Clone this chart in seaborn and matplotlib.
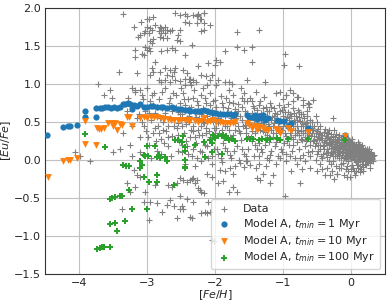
import numpy as np
import pandas as pd
import matplotlib
matplotlib.use("Agg")
import matplotlib.pyplot as plt
import seaborn as sns

# ---------------- observational data ([Fe/H], [Eu/Fe]) ----------------
data_plume = [
    (-3.36,1.92),(-3.19,1.75),(-3.09,1.82),(-3.00,1.86),(-2.98,1.85),(-2.91,1.88),(-2.89,1.78),
    (-3.00,1.75),(-2.96,1.73),(-2.93,1.71),(-3.03,1.69),(-2.98,1.67),(-3.05,1.67),(-3.10,1.64),
    (-3.13,1.62),(-2.81,1.75),(-2.79,1.73),(-2.76,1.71),(-2.74,1.75),(-2.71,1.71),(-2.83,1.69),
    (-2.79,1.67),(-2.74,1.67),(-2.66,1.69),(-2.64,1.71),(-2.81,1.62),(-2.76,1.60),(-2.71,1.61),
    (-2.91,1.59),(-2.96,1.56),(-2.93,1.54),(-2.51,1.71),(-2.54,1.64),(-2.59,1.93),(-2.51,1.91),
    (-2.44,1.92),(-2.42,1.89),(-2.44,1.82),(-2.39,1.80),(-2.32,1.91),(-2.27,1.89),(-2.25,1.92),
    (-2.22,1.86),(-2.17,1.93),(-2.20,1.69),(-2.17,1.71),(-2.07,1.78),(-2.34,1.51),(-2.51,1.56),
    (-2.56,1.58),(-3.18,1.45),(-3.03,1.49),(-3.00,1.45),(-2.98,1.47),(-2.96,1.43),(-3.08,1.40),
    (-3.05,1.38),(-3.18,1.36),(-2.79,1.43),(-2.71,1.45),(-2.64,1.47),(-2.59,1.45),(-2.44,1.38),
    (-2.88,1.29),(-2.25,1.23),(-2.10,1.27),(-1.98,1.32),(-1.93,1.29),(-1.85,1.43),(-3.15,1.14),
    (-2.93,1.21),(-2.91,1.16),(-2.96,1.12),(-2.81,1.16),(-2.74,1.21),(-2.66,1.18),(-2.61,1.16),
    (-2.59,1.21),(-2.71,1.12),(-2.64,1.10),(-2.47,1.18),(-2.42,1.14),(-2.37,1.07),(-2.20,1.12),
    (-2.13,1.10),(-2.07,1.05),(-1.80,1.03),(-2.83,1.05),(-2.79,1.03),(-2.74,1.05),(-2.66,1.03),
    (-2.59,1.05),(-2.51,1.04),(-2.44,1.06),(-2.39,1.07),(-2.37,1.03),(-2.32,1.05),(-3.22,0.94),
    (-3.18,0.92),(-3.10,0.92),(-2.25,1.91),(-2.17,1.93),(-2.20,1.86),(-2.27,1.80),(-2.17,1.80),
    (-1.68,1.68),(-1.36,1.71),(-1.68,1.49),(-1.58,1.45),(-1.46,1.49),(-0.97,1.40),(-1.46,1.29),
    (-0.99,1.25),(-0.77,1.23),(-1.26,1.03),(-1.53,1.05),(-2.00,1.25),(-2.05,1.12),(-1.85,1.03),
    (-0.90,0.92),(-0.85,0.88),(-0.80,0.83),(-0.95,0.86),(-0.70,0.79),(-0.63,0.75),(-0.56,0.79),
    (-1.73,0.75),(-0.26,0.55),(0.13,0.18),(0.16,0.15),(-3.72,1.00),(-3.54,0.92),(-3.64,0.86),
    (-3.42,1.16),(-3.52,0.82),(-0.78,0.83),(-0.62,0.73),
]
data_leftmid = [
    (-3.18,0.90),(-3.15,0.55),(-3.12,0.72),(-3.10,0.30),(-3.08,0.85),(-3.05,0.45),(-3.03,0.65),
    (-3.00,0.95),(-2.98,0.20),(-2.96,0.78),(-2.94,0.52),(-2.92,0.35),(-2.90,0.88),(-2.88,0.62),
    (-2.86,0.12),(-2.84,0.45),(-2.82,0.80),(-2.80,0.28),(-2.78,0.68),(-2.76,0.50),(-2.74,0.95),
    (-2.72,0.38),(-2.70,0.18),(-2.68,0.75),(-2.66,0.55),(-2.64,0.32),(-2.62,0.88),(-2.61,0.45),
    (-3.25,0.20),(-3.30,0.65),(-3.35,0.35),(-3.40,0.15),(-3.28,0.82),(-3.22,0.45),(-2.95,0.02),
    (-2.80,0.08),(-2.65,0.05),(-3.10,0.10),(-2.87,0.25),(-2.75,0.22),(-4.06,0.11),(-3.99,0.05),
    (-3.84,-0.02),(-3.50,0.11),(-3.22,0.05),
    (-3.12,0.60),(-3.06,0.80),(-3.02,0.38),(-2.97,0.62),(-2.93,0.85),(-2.89,0.42),(-2.85,0.70),
    (-2.81,0.55),(-2.78,0.90),(-2.73,0.62),(-2.69,0.45),(-2.66,0.82),(-2.63,0.65),(-2.99,0.30),
    (-2.83,0.35),(-2.70,0.30),(-3.08,0.50),(-2.91,0.72),(-2.77,0.40),
]
data_mid = [
    (-2.58,0.85),(-2.56,0.42),(-2.55,0.63),(-2.53,0.25),(-2.52,0.75),(-2.50,0.52),(-2.49,0.10),
    (-2.47,0.88),(-2.46,0.35),(-2.45,0.66),(-2.43,0.47),(-2.42,0.18),(-2.40,0.80),(-2.39,0.58),
    (-2.37,0.30),(-2.36,0.70),(-2.34,0.05),(-2.33,0.45),(-2.31,0.92),(-2.30,0.62),(-2.28,0.22),
    (-2.27,0.78),(-2.25,0.40),(-2.24,0.55),(-2.22,0.12),(-2.21,0.85),(-2.19,0.33),(-2.18,0.68),
    (-2.16,0.48),(-2.15,0.20),(-2.13,0.75),(-2.12,0.58),(-2.10,0.02),(-2.09,0.38),(-2.07,0.88),
    (-2.06,0.28),(-2.04,0.66),(-2.03,0.50),(-2.01,0.15),(-2.00,0.79),(-1.98,0.42),(-1.97,0.60),
    (-1.95,0.08),(-1.94,0.35),(-1.92,0.84),(-1.91,0.52),(-1.89,0.22),(-1.88,0.70),(-1.86,0.45),
    (-1.85,0.30),(-1.83,0.63),(-1.82,0.12),(-1.80,0.76),(-1.79,0.40),(-1.77,0.55),(-1.76,0.02),
    (-1.74,0.86),(-1.73,0.33),(-1.71,0.67),(-1.70,0.48),(-1.68,0.18),(-1.67,0.73),(-1.65,0.38),
    (-1.64,0.58),(-1.62,0.26),(-1.61,0.82),(-1.59,0.44),(-1.58,0.08),(-1.56,0.65),(-1.55,0.35),
    (-1.53,0.77),(-1.52,0.52),(-1.51,0.15),(-2.55,0.48),(-2.48,0.60),(-2.44,0.72),(-2.38,0.50),
    (-2.32,0.38),(-2.26,0.65),(-2.20,0.45),(-2.14,0.35),(-2.08,0.72),(-2.02,0.42),(-1.96,0.55),
    (-1.90,0.40),(-1.84,0.82),(-1.78,0.50),(-1.72,0.60),(-1.66,0.45),(-1.60,0.70),(-1.54,0.42),
    (-2.50,0.95),(-2.35,0.98),(-2.18,0.95),(-1.98,0.98),(-1.80,0.92),(-1.62,0.95),(-2.45,-0.05),
    (-2.30,-0.08),(-2.20,-0.02),(-2.05,-0.06),(-1.90,-0.03),(-1.70,-0.08),(-1.55,-0.02),
    (-2.57,0.70),(-2.54,0.33),(-2.51,0.60),(-2.48,0.45),(-2.46,0.80),(-2.43,0.25),(-2.41,0.55),
    (-2.38,0.68),(-2.35,0.40),(-2.33,0.82),(-2.30,0.30),(-2.28,0.56),(-2.25,0.72),(-2.23,0.33),
    (-2.20,0.60),(-2.18,0.50),(-2.15,0.82),(-2.13,0.42),(-2.10,0.65),(-2.08,0.30),(-2.05,0.55),
    (-2.03,0.78),(-2.00,0.36),(-1.98,0.70),(-1.95,0.48),(-1.93,0.62),(-1.90,0.75),(-1.88,0.32),
    (-1.86,0.58),(-1.83,0.45),(-1.81,0.68),(-1.78,0.30),(-1.76,0.62),(-1.73,0.75),(-1.71,0.40),
    (-1.69,0.55),(-1.66,0.65),(-1.63,0.35),(-1.61,0.52),(-1.58,0.78),(-1.56,0.46),(-1.53,0.62),
    (-1.51,0.30),(-2.55,0.12),(-2.48,0.20),(-2.40,0.08),(-2.33,0.15),(-2.26,0.02),(-2.19,0.10),
    (-2.12,0.18),(-2.05,0.05),(-1.97,0.14),(-1.92,0.02),(-1.85,0.16),(-1.78,0.06),(-1.72,0.12),
    (-1.65,0.00),(-1.60,0.15),(-1.55,0.05),(-2.45,0.98),(-2.28,1.02),(-2.12,0.98),(-1.95,1.05),
    (-1.75,1.00),(-1.58,0.88),
]
data_midright = [
    (-1.48,0.82),(-1.47,0.45),(-1.46,0.62),(-1.45,0.25),(-1.44,0.71),(-1.43,0.05),(-1.42,0.53),
    (-1.41,0.35),(-1.40,0.90),(-1.39,0.15),(-1.38,0.66),(-1.37,0.42),(-1.36,0.58),(-1.35,-0.05),
    (-1.34,0.77),(-1.33,0.29),(-1.32,0.49),(-1.31,0.10),(-1.30,0.61),(-1.29,0.38),(-1.28,0.83),
    (-1.27,0.20),(-1.26,0.54),(-1.25,0.70),(-1.24,0.33),(-1.23,0.02),(-1.22,0.47),(-1.21,0.64),
    (-1.20,0.24),(-1.19,0.75),(-1.18,0.40),(-1.17,0.12),(-1.16,0.57),(-1.15,0.30),(-1.14,0.68),
    (-1.13,0.48),(-1.12,0.18),(-1.11,0.88),(-1.10,0.36),(-1.09,0.60),(-1.08,0.05),(-1.07,0.44),
    (-1.06,0.72),(-1.05,0.27),(-1.04,0.53),(-1.03,0.14),(-1.02,0.66),(-1.01,0.39),(-1.00,0.80),
    (-0.99,0.22),(-0.98,0.49),(-0.97,0.63),(-0.96,0.31),(-0.95,0.08),(-0.94,0.56),(-0.93,0.42),
    (-0.92,0.74),(-0.91,0.19),(-0.90,0.35),(-0.89,0.61),(-0.88,0.47),(-0.87,0.12),(-0.86,0.68),
    (-0.85,0.28),(-0.84,0.52),(-0.83,0.40),(-0.82,0.02),(-0.81,0.58),(-0.80,0.23),(-0.79,0.45),
    (-0.78,0.66),(-0.77,0.33),(-0.76,0.15),(-0.75,0.51),(-0.74,0.38),(-0.73,0.60),(-0.72,0.26),
    (-0.71,0.07),(-0.70,0.44),(-0.69,0.55),(-0.68,0.30),(-0.67,0.18),(-0.66,0.48),(-0.65,0.64),
    (-0.64,0.36),(-0.63,0.10),(-0.62,0.41),(-0.61,0.25),(-0.60,0.53),(-0.59,0.32),(-0.62,0.70),
    (-0.70,0.72),(-0.85,0.78),(-0.95,0.85),(-1.05,0.90),(-1.46,0.38),(-1.42,0.68),(-1.39,0.49),
    (-1.36,0.22),(-1.33,0.62),(-1.30,0.45),(-1.27,0.37),(-1.24,0.58),(-1.21,0.30),(-1.18,0.52),
    (-1.15,0.45),(-1.12,0.62),(-1.09,0.28),(-1.06,0.50),(-1.03,0.40),(-1.00,0.58),(-0.97,0.35),
    (-0.94,0.45),(-0.91,0.55),(-0.88,0.30),(-0.85,0.45),(-0.82,0.50),(-0.79,0.35),(-0.76,0.56),
    (-0.73,0.45),(-0.70,0.35),(-0.67,0.40),(-0.64,0.50),(-0.61,0.45),(-1.40,-0.10),(-1.25,-0.08),
    (-1.10,-0.06),(-0.95,-0.02),(-0.80,-0.05),(-0.68,-0.02),(-1.30,-0.18),(-1.15,-0.20),
    (-0.88,-0.15),(-0.72,-0.12),
    (-1.49,0.55),(-1.47,0.30),(-1.45,0.78),(-1.43,0.47),(-1.41,0.20),(-1.38,0.58),(-1.36,0.72),
    (-1.34,0.40),(-1.32,0.15),(-1.30,0.68),(-1.28,0.50),(-1.26,0.28),(-1.23,0.64),(-1.21,0.44),
    (-1.19,0.06),(-1.17,0.70),(-1.15,0.36),(-1.13,0.58),(-1.11,0.24),(-1.08,0.50),(-1.06,0.38),
    (-1.04,0.65),(-1.02,0.10),(-1.00,0.45),(-0.98,0.70),(-0.96,0.53),(-0.94,0.25),(-0.92,0.63),
    (-0.90,0.48),(-0.88,0.58),(-0.86,0.20),(-0.84,0.62),(-0.82,0.33),(-0.80,0.52),(-0.78,0.40),
    (-0.76,0.63),(-0.74,0.28),(-0.72,0.50),(-0.70,0.60),(-0.68,0.47),(-0.66,0.25),(-0.64,0.58),
    (-0.62,0.33),(-0.60,0.40),(-0.58,0.50),(-0.56,0.25),(-0.54,0.45),(-0.52,0.58),(-0.50,0.50),
    (-0.48,0.20),(-1.35,0.05),(-1.20,0.00),(-1.05,0.02),(-0.90,0.05),(-0.75,0.03),(-0.60,0.05),
]
data_core = [
    (-0.58,0.42),(-0.55,0.31),(-0.52,0.22),(-0.50,0.38),(-0.49,0.12),(-0.47,0.27),(-0.45,0.45),
    (-0.44,0.05),(-0.42,0.33),(-0.41,0.18),(-0.40,0.24),(-0.38,0.41),(-0.37,0.09),(-0.36,0.29),
    (-0.35,0.15),(-0.34,0.36),(-0.33,-0.02),(-0.32,0.21),(-0.31,0.27),(-0.30,0.11),(-0.29,0.34),
    (-0.28,0.18),(-0.27,0.05),(-0.26,0.25),(-0.25,0.39),(-0.24,0.14),(-0.23,0.30),(-0.22,-0.08),
    (-0.22,0.20),(-0.21,0.08),(-0.20,0.26),(-0.19,0.16),(-0.18,0.33),(-0.18,0.02),(-0.17,0.22),
    (-0.16,0.12),(-0.15,0.28),(-0.15,-0.05),(-0.14,0.18),(-0.13,0.07),(-0.12,0.24),(-0.12,0.31),
    (-0.11,0.14),(-0.10,0.03),(-0.10,0.20),(-0.09,0.10),(-0.08,0.27),(-0.08,-0.12),(-0.07,0.16),
    (-0.06,0.06),(-0.06,0.22),(-0.05,0.12),(-0.04,-0.02),(-0.04,0.18),(-0.03,0.09),(-0.02,0.25),
    (-0.02,0.14),(-0.01,0.04),(0.00,0.19),(0.00,0.10),(0.01,-0.07),(0.01,0.15),(0.02,0.07),
    (0.02,0.22),(0.03,0.12),(0.04,0.01),(0.04,0.17),(0.05,0.09),(0.05,-0.15),(0.06,0.14),
    (0.06,0.04),(0.07,0.20),(0.08,0.10),(0.08,-0.03),(0.09,0.15),(0.10,0.06),(0.10,0.24),
    (0.11,0.12),(0.12,0.01),(0.12,0.17),(0.13,0.08),(0.14,-0.08),(0.14,0.13),(0.15,0.04),
    (0.16,0.19),(0.17,0.09),(0.18,-0.02),(0.18,0.14),(0.19,0.05),(0.20,0.10),(0.21,-0.06),
    (0.22,0.02),(0.22,0.12),(0.24,0.07),(0.25,-0.03),(0.26,0.10),(0.28,0.03),(0.30,0.06),
    (0.32,-0.01),(0.27,0.15),(-0.35,-0.10),(-0.28,-0.15),(-0.20,-0.18),(-0.10,-0.20),
    (-0.02,-0.22),(0.06,-0.20),(0.13,-0.16),(-0.45,-0.05),(-0.52,0.00),(-0.38,-0.20),
    (-0.25,-0.25),(0.18,-0.14),(0.28,-0.10),(-0.57,0.35),(-0.53,0.18),(-0.48,0.30),(-0.46,0.20),
    (-0.43,0.26),(-0.39,0.14),(-0.36,0.35),(-0.33,0.24),(-0.31,0.06),(-0.29,0.16),(-0.26,0.32),
    (-0.24,0.21),(-0.21,0.13),(-0.19,0.28),(-0.17,0.06),(-0.14,0.23),(-0.11,0.09),(-0.09,0.18),
    (-0.07,0.01),(-0.05,0.16),(-0.03,0.21),(-0.01,0.13),(0.01,0.09),(0.03,0.17),(0.05,0.04),
    (0.07,0.12),(0.09,0.01),(0.11,0.18),(0.13,0.11),(0.15,0.15),(0.17,0.03),(0.19,0.12),
    (0.21,0.07),(0.23,0.15),(0.24,0.00),(0.26,0.05),(0.29,0.09),(0.31,0.03),(0.33,0.05),
    (-0.54,0.26),(-0.47,0.34),(-0.41,0.08),(-0.37,0.22),(-0.34,0.11),(-0.30,0.30),(-0.27,0.12),
    (-0.23,0.25),(-0.20,0.05),(-0.18,0.20),(-0.16,0.09),(-0.13,0.15),(-0.11,0.26),(-0.09,0.04),
    (-0.07,0.10),(-0.05,0.28),(-0.03,0.06),(-0.01,0.20),(0.02,0.02),(0.04,0.10),(0.06,0.18),
    (0.08,0.06),(0.10,0.13),(0.12,0.09),(0.14,0.03),(0.16,0.11),(0.18,0.07),(0.20,0.15),
    (0.21,0.02),(0.23,0.10),(0.25,0.12),(0.27,0.06),(0.29,0.00),(-0.06,-0.08),(0.00,-0.12),
    (-0.14,-0.10),(0.10,-0.10),(0.16,-0.05),
    (-0.52,0.35),(-0.50,0.08),(-0.48,0.41),(-0.46,0.15),(-0.44,0.29),(-0.42,0.02),(-0.40,0.37),
    (-0.39,0.20),(-0.37,0.31),(-0.35,0.04),(-0.33,0.19),(-0.32,0.39),(-0.30,0.22),(-0.28,0.09),
    (-0.27,0.28),(-0.25,0.17),(-0.24,0.05),(-0.22,0.34),(-0.21,0.23),(-0.19,0.10),(-0.17,0.30),
    (-0.16,0.15),(-0.15,0.02),(-0.13,0.21),(-0.12,0.11),(-0.10,0.29),(-0.09,0.13),(-0.08,0.07),
    (-0.07,0.23),(-0.05,0.03),(-0.04,0.14),(-0.03,0.26),(-0.02,0.08),(-0.01,0.17),(0.00,0.03),
    (0.01,0.12),(0.02,0.27),(0.03,0.05),(0.04,0.21),(0.05,0.14),(0.06,0.00),(0.07,0.08),
    (0.08,0.17),(0.09,0.11),(0.10,-0.03),(0.11,0.05),(0.12,0.21),(0.13,0.14),(0.14,0.07),
    (0.15,0.10),(0.16,-0.01),(0.17,0.16),(0.18,0.11),(0.19,0.02),(0.20,0.06),(0.21,0.13),
    (0.22,0.08),(0.23,-0.02),(0.24,0.11),(0.25,0.04),(0.26,0.14),(0.27,0.00),(0.28,0.08),
    (0.30,0.11),(0.31,0.01),(0.34,0.07),(-0.30,-0.05),(-0.18,-0.10),(-0.12,-0.04),(-0.05,-0.15),
    (0.03,-0.10),(0.09,-0.07),(0.15,-0.12),(0.22,-0.07),(-0.42,-0.12),(-0.26,-0.02),
    (-0.02,0.11),(0.02,0.15),(0.06,0.09),(-0.06,0.13),(0.10,0.16),(0.14,0.16),(0.18,0.04),
    (-0.10,0.16),(-0.14,0.26),(0.00,0.24),(0.05,0.19),(-0.08,0.02),(0.12,0.05),(0.16,0.08),
    (-0.20,0.16),(-0.23,0.10),(-0.28,0.24),(-0.34,0.30),(-0.38,0.26),(-0.45,0.36),(-0.50,0.28),
    (-0.56,0.40),(-0.60,0.20),(-0.64,0.28),(-0.58,0.12),
]
data_low = [
    (-3.30,-0.31),(-3.20,-0.13),(-3.15,-0.20),(-3.10,-0.22),(-3.18,-0.35),(-3.25,-0.42),
    (-3.37,-0.64),(-3.05,-0.55),(-2.98,-0.79),(-2.88,-0.33),(-2.86,-0.57),(-2.78,-0.68),
    (-2.66,-0.53),(-2.61,-0.61),(-2.56,-0.77),(-2.51,-0.24),(-2.47,-0.26),(-2.42,-0.29),
    (-2.34,-0.25),(-2.29,-0.31),(-2.51,-0.48),(-2.42,-0.52),(-2.32,-0.55),(-2.49,-0.61),
    (-2.51,-0.65),(-2.34,-0.77),(-3.03,-0.42),(-2.96,-0.55),(-2.71,-0.59),(-2.69,-0.33),
    (-2.64,-0.36),(-2.56,-0.31),(-2.37,-0.26),(-2.32,-0.24),(-2.27,-0.26),(-2.25,-0.37),
    (-2.20,-0.42),(-2.10,-0.55),(-2.07,-0.68),(-2.15,-0.68),(-2.20,-0.70),(-2.37,-0.75),
    (-2.47,-0.64),(-1.93,-0.13),(-1.85,-0.15),(-1.78,-0.11),(-1.73,-0.18),(-1.68,-0.42),
    (-1.63,-0.04),(-1.58,-0.09),(-1.53,-0.02),(-1.49,-0.07),(-2.12,-0.18),(-2.05,-0.22),
    (-2.12,-0.70),(-2.05,-1.05),(-2.02,-1.07),(-1.19,-0.31),(-1.39,-0.24),(-1.34,-0.26),
    (-0.75,-0.31),(-0.97,-0.48),(-1.80,-0.42),(-1.95,-0.31),(-1.88,-0.28),(-1.73,-0.35),
    (-2.22,-0.39),(-2.17,-0.44),(-0.31,-0.20),(-0.21,-0.18),(-0.06,-0.22),(0.08,-0.15),
    (0.18,-0.09),(0.28,-0.04),(-0.60,-0.10),(-0.50,-0.15),
]
data_pts = data_plume + data_leftmid + data_mid + data_midright + data_core + data_low
data_feh = [p[0] for p in data_pts]
data_eufe = [p[1] for p in data_pts]

# ---------------- Model A, t_min = 1 Myr ----------------
m1_feh = [-4.47,-4.24,-4.16,-4.13,-4.03,-3.92,-3.92,-3.75,-3.75,-3.70,-3.66,-3.62,-3.57,-3.53,
          -3.49,-3.45,-3.40,-3.36,-3.32,-3.28,-3.25,-3.22,-3.20,-3.15,-3.10,-3.05,-3.00,-2.95,
          -2.91,-2.86,-2.80,-2.76,-2.71,-2.64,-2.61,-2.55,-2.50,-2.45,-2.40,-2.37,-2.30,-2.25,
          -2.20,-2.17,-2.12,-2.08,-2.03,-1.98,-1.93,-1.88,-1.83,-1.78,-1.73,-1.71,-1.53,-1.50,
          -1.46,-1.41,-1.38,-1.35,-1.32,-1.29,-1.26,-1.22,-1.09,-1.04,-0.99,-0.92,-0.88,-0.63,-0.09]
m1_eufe = [0.33,0.43,0.44,0.45,0.46,0.57,0.65,0.57,0.68,0.68,0.68,0.69,0.70,0.68,
           0.70,0.68,0.70,0.74,0.74,0.75,0.74,0.67,0.72,0.71,0.73,0.70,0.70,0.71,
           0.71,0.70,0.70,0.70,0.68,0.69,0.68,0.67,0.67,0.66,0.66,0.65,0.65,0.64,
           0.65,0.66,0.64,0.63,0.62,0.62,0.61,0.61,0.60,0.60,0.59,0.60,0.59,0.57,
           0.56,0.59,0.54,0.58,0.55,0.59,0.53,0.55,0.53,0.51,0.51,0.45,0.48,0.42,0.33]

# ---------------- Model A, t_min = 10 Myr ----------------
m10_feh = [-4.46,-4.24,-4.16,-4.13,-4.03,-3.92,-3.76,-3.92,-3.74,-3.71,-3.68,-3.64,-3.57,-3.52,
           -3.50,-3.47,-3.45,-3.40,-3.37,-3.30,-3.26,-3.22,-3.10,-3.05,-3.00,-2.95,-2.90,-2.86,
           -2.80,-2.75,-2.70,-2.65,-2.61,-2.55,-2.50,-2.45,-2.40,-2.37,-2.30,-2.25,-2.20,-2.17,
           -2.12,-2.08,-2.03,-1.98,-1.93,-1.88,-1.83,-1.78,-1.73,-1.71,-1.53,-1.50,-1.45,-1.41,
           -1.38,-1.35,-1.29,-1.26,-1.22,-1.10,-1.07,-1.04,-0.92,-0.88,-0.63,-0.09]
m10_eufe = [-0.22,-0.01,0.00,0.00,0.02,0.21,0.20,0.51,0.42,0.41,0.41,0.42,0.48,0.48,
            0.45,0.48,0.39,0.47,0.46,0.57,0.56,0.44,0.55,0.56,0.55,0.57,0.56,0.56,
            0.55,0.54,0.54,0.53,0.53,0.52,0.53,0.52,0.52,0.52,0.51,0.50,0.51,0.55,
            0.50,0.51,0.52,0.50,0.50,0.49,0.49,0.48,0.48,0.50,0.48,0.46,0.42,0.44,
            0.40,0.43,0.42,0.40,0.39,0.41,0.39,0.36,0.42,0.38,0.37,0.31]

# ---------------- Model A, t_min = 100 Myr ----------------
m100_feh = [-3.74,-3.69,-3.66,-3.64,-3.54,-3.44,-3.54,-3.47,-3.32,-3.22,-3.00,-3.55,-3.52,-3.47,
            -3.40,-3.37,-3.27,-3.35,-3.31,-3.26,-3.10,-3.04,-2.98,-2.86,-2.86,-3.03,-2.99,-3.05,
            -2.86,-2.71,-2.61,-3.92,-3.62,-3.00,-3.08,-2.81,-2.74,-2.44,-2.15,-1.90,-2.44,-2.88,
            -2.83,-2.59,-2.54,-2.49,-2.47,-2.44,-2.44,-2.44,-2.29,-2.07,-2.05,-2.00,-1.95,-1.88,
            -1.84,-1.80,-2.17,-2.03,-1.90,-1.85,-1.75,-1.71,-2.05,-1.53,-1.49,-1.44,-1.36,-1.31,
            -1.24,-1.19,-1.09,-1.04,-0.92,-0.63,-0.09,-3.10]
m100_eufe = [-1.17,-1.16,-1.15,-1.15,-1.15,-0.94,-0.84,-0.83,-0.81,-0.65,-0.65,-0.51,-0.50,-0.49,
             -0.48,-0.48,-0.39,-0.07,-0.08,-0.08,-0.11,-0.22,-0.29,-0.29,-0.20,0.05,0.05,0.07,
             0.04,-0.02,-0.33,0.34,0.17,0.18,-0.07,0.02,0.04,-0.09,0.04,0.08,0.12,0.18,
             0.07,0.26,0.26,0.24,0.31,0.17,0.00,-0.11,0.20,0.26,0.22,0.29,0.31,0.33,
             0.31,0.26,0.24,0.33,0.31,0.29,0.27,0.25,0.11,0.28,0.27,0.27,0.26,0.27,
             0.26,0.27,0.29,0.26,0.27,0.27,0.26,-0.02]

labels = ["Data",
          r"Model A, $t_{min} = 1$ Myr",
          r"Model A, $t_{min} = 10$ Myr",
          r"Model A, $t_{min} = 100$ Myr"]

sns.set_style("ticks", {"axes.grid": True})
plt.rcParams["font.family"] = ["DejaVu Sans"]
plt.rcParams["mathtext.fontset"] = "dejavusans"

fig = plt.figure(figsize=(3.9, 3.05), dpi=100)
ax = fig.add_axes([0.116, 0.102, 0.871, 0.872])

sns.scatterplot(x=data_feh, y=data_eufe, ax=ax, marker="+", color="grey",
                s=16, linewidth=0.8, label=labels[0], zorder=2)
sns.scatterplot(x=m1_feh, y=m1_eufe, ax=ax, marker="o", color="#1f77b4",
                s=20, linewidth=0, label=labels[1], zorder=3)
sns.scatterplot(x=m10_feh, y=m10_eufe, ax=ax, marker="v", color="#ff7f0e",
                s=24, linewidth=0, label=labels[2], zorder=3)
sns.scatterplot(x=m100_feh, y=m100_eufe, ax=ax, marker="P", color="#2ca02c",
                s=24, linewidth=0, label=labels[3], zorder=3)

ax.set_xlim(-4.5, 0.5)
ax.set_ylim(-1.5, 2.0)
ax.set_xticks([-4, -3, -2, -1, 0])
ax.set_yticks([-1.5, -1.0, -0.5, 0.0, 0.5, 1.0, 1.5, 2.0])
ax.set_xlabel(r"$[Fe/H]$", fontsize=8)
ax.set_ylabel(r"$[Eu/Fe]$", fontsize=8)
ax.xaxis.set_label_coords(0.5, -0.055)
ax.yaxis.set_label_coords(-0.095, 0.5)
ax.tick_params(labelsize=8, length=0, pad=3)
ax.grid(True, color="#c0c0c0", linewidth=0.8)
for sp in ax.spines.values():
    sp.set_color("#333333")
    sp.set_linewidth(0.8)
ax.legend(loc="lower right", fontsize=8, frameon=True, borderpad=0.45,
          handlelength=1.6, handletextpad=0.9, labelspacing=0.25,
          borderaxespad=0.4, markerscale=1.0)

fig.savefig("out.png", dpi=100)
